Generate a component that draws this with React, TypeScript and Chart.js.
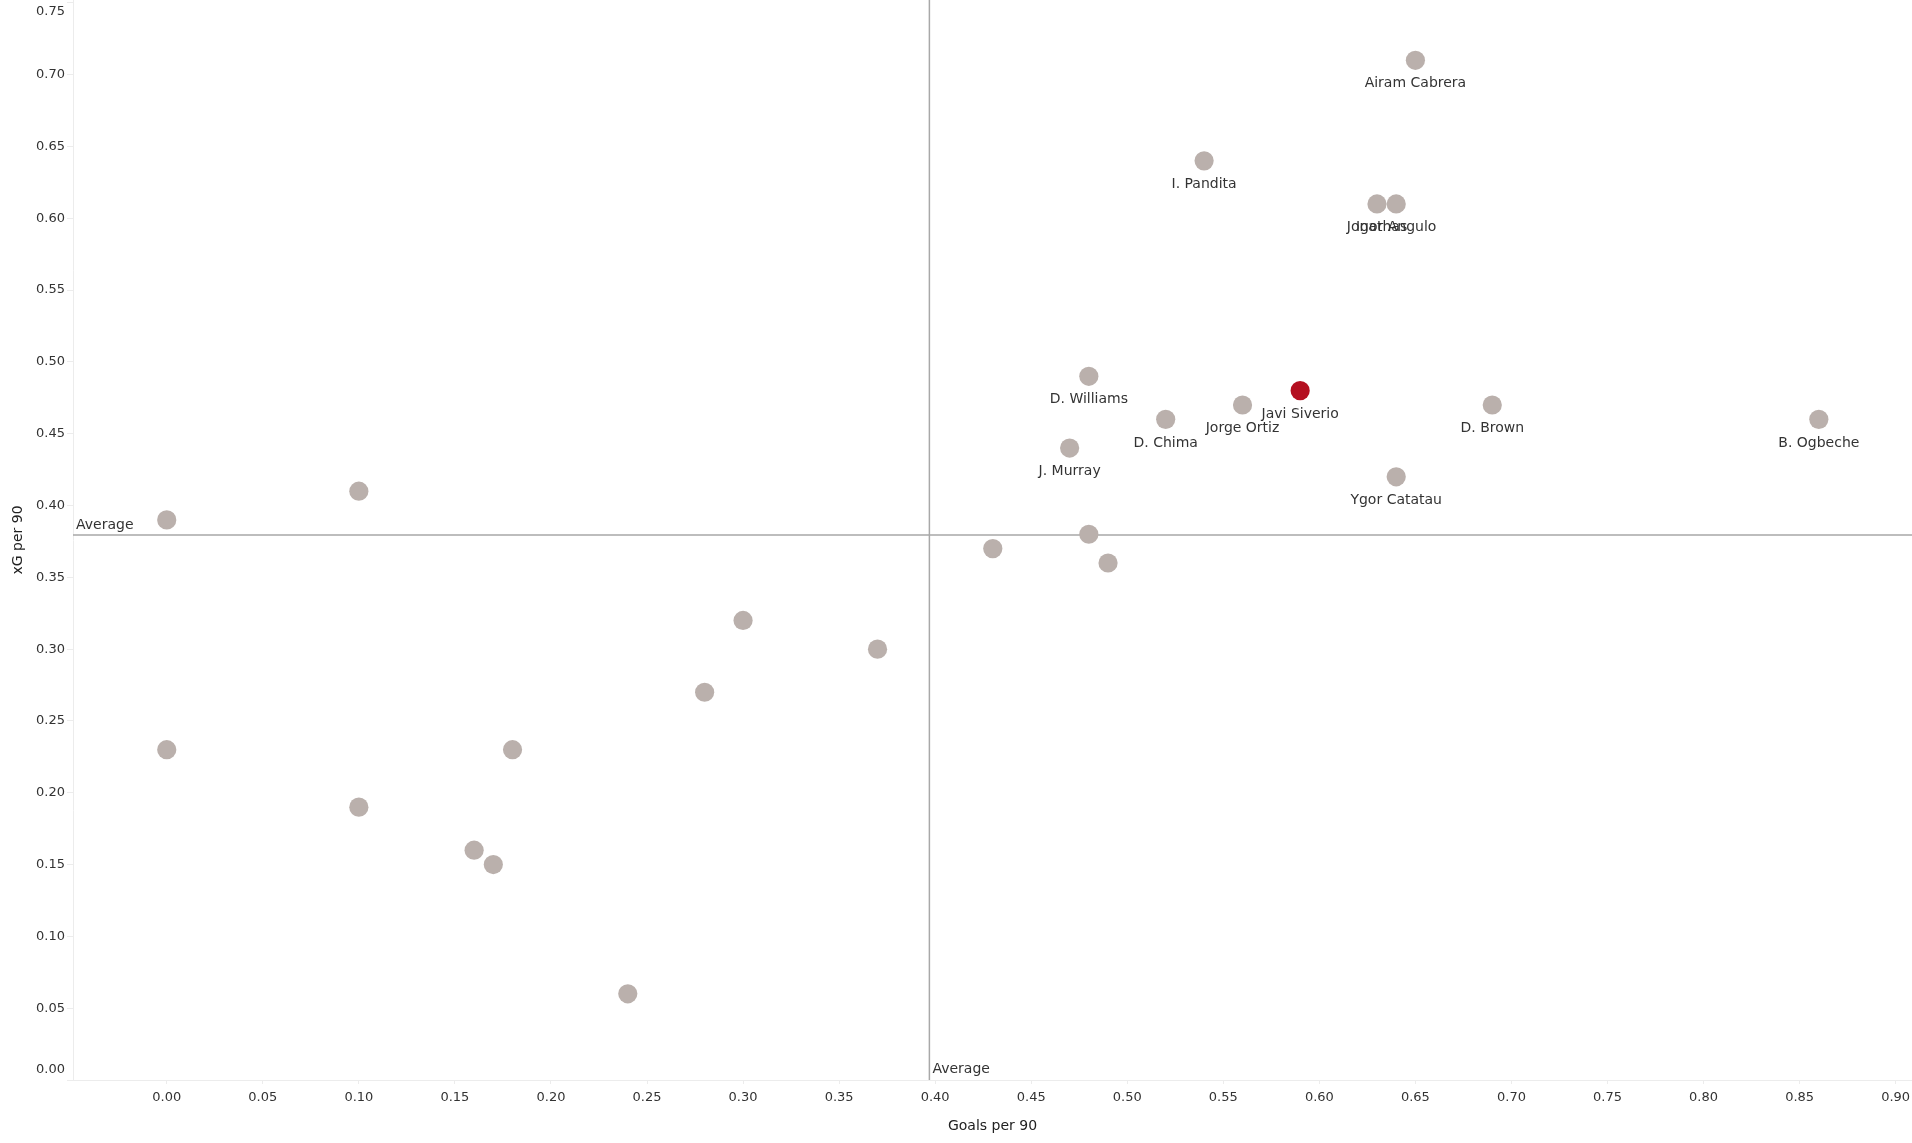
import React, { useEffect, useRef } from 'react';
import { Chart, registerables } from 'chart.js';

Chart.register(...registerables);

// ---- data ----
const playerNames = [
  'Airam Cabrera', 'I. Pandita', 'Jonathas', 'Igor Angulo', 'D. Williams', 'Javi Siverio',
  'Jorge Ortiz', 'D. Brown', 'D. Chima', 'B. Ogbeche', 'J. Murray', 'Ygor Catatau',
  '', '', '', '', '', '', '', '', '', '', '', '', '', '',
];
const goalsPer90 = [
  0.65, 0.54, 0.63, 0.64, 0.48, 0.59,
  0.56, 0.69, 0.52, 0.86, 0.47, 0.64,
  0.0, 0.10, 0.48, 0.43, 0.49, 0.30, 0.37, 0.28, 0.0, 0.18, 0.10, 0.16, 0.17, 0.24,
];
const xgPer90 = [
  0.71, 0.64, 0.61, 0.61, 0.49, 0.48,
  0.47, 0.47, 0.46, 0.46, 0.44, 0.42,
  0.39, 0.41, 0.38, 0.37, 0.36, 0.32, 0.30, 0.27, 0.23, 0.23, 0.19, 0.16, 0.15, 0.06,
];
const highlightedPlayer = 'Javi Siverio';
const averageGoals = 0.397;
const averageXg = 0.3795;
const averageLabel = 'Average';
const xTitle = 'Goals per 90';
const yTitle = 'xG per 90';

const FONT = "'DejaVu Sans', sans-serif";
const GRAY = '#bab0ac';
const RED = '#b40f20';
const TEXT = '#333333';

export default function App() {
  const ref = useRef<HTMLCanvasElement | null>(null);

  useEffect(() => {
    if (!ref.current) return;
    const pts = playerNames.map((n, i) => ({ x: goalsPer90[i], y: xgPer90[i], label: n }));
    const others = pts.filter((p) => p.label !== highlightedPlayer);
    const hi = pts.filter((p) => p.label === highlightedPlayer);

    const overlay = {
      id: 'overlay',
      beforeDatasetsDraw(chart: any) {
        const { ctx, chartArea, scales } = chart;
        const xs = scales.x, ys = scales.y;
        ctx.save();
        ctx.strokeStyle = '#a8a8a8';
        ctx.lineWidth = 1.5;
        const ax = xs.getPixelForValue(averageGoals);
        const ay = ys.getPixelForValue(averageXg);
        ctx.beginPath();
        ctx.moveTo(ax, chartArea.top);
        ctx.lineTo(ax, chartArea.bottom);
        ctx.moveTo(chartArea.left, ay);
        ctx.lineTo(chartArea.right, ay);
        ctx.stroke();
        ctx.font = `14px ${FONT}`;
        ctx.fillStyle = TEXT;
        ctx.textBaseline = 'middle';
        ctx.textAlign = 'left';
        ctx.fillText(averageLabel, chartArea.left + 3, ay - 10);
        ctx.fillText(averageLabel, ax + 3, chartArea.bottom - 11);
        // y tick labels (clamped inside the pane like the reference)
        ctx.font = `13px ${FONT}`;
        ctx.textAlign = 'right';
        ys.ticks.forEach((t: any) => {
          let py = ys.getPixelForValue(t.value);
          py = Math.max(chartArea.top + 12, Math.min(chartArea.bottom - 10, py));
          ctx.fillText(Number(t.value).toFixed(2), chartArea.left - 8, py);
        });
        ctx.restore();
      },
      afterDatasetsDraw(chart: any) {
        const { ctx } = chart;
        ctx.save();
        ctx.font = `14px ${FONT}`;
        ctx.fillStyle = TEXT;
        ctx.textAlign = 'center';
        ctx.textBaseline = 'middle';
        chart.data.datasets.forEach((ds: any, di: number) => {
          const meta = chart.getDatasetMeta(di);
          meta.data.forEach((el: any, i: number) => {
            const lbl = ds.data[i].label;
            if (lbl) ctx.fillText(lbl, el.x, el.y + 23.5);
          });
        });
        ctx.restore();
      },
    };

    const chart = new Chart(ref.current, {
      type: 'scatter',
      data: {
        datasets: [
          { data: others, backgroundColor: GRAY, borderWidth: 0, pointRadius: 9.6, pointHoverRadius: 9.6 },
          { data: hi, backgroundColor: RED, borderWidth: 0, pointRadius: 9.6, pointHoverRadius: 9.6 },
        ],
      },
      options: {
        animation: false,
        responsive: false,
        maintainAspectRatio: false,
        layout: { padding: 0, autoPadding: false },
        plugins: { legend: { display: false }, tooltip: { enabled: false } },
        scales: {
          x: {
            type: 'linear',
            min: -0.0488,
            max: 0.9085,
            border: { color: '#ececec', width: 1 },
            grid: { display: true, drawOnChartArea: false, drawTicks: true, tickLength: 4, color: '#ececec' },
            ticks: {
              stepSize: 0.05,
              includeBounds: false,
              padding: 6,
              color: TEXT,
              font: { family: FONT, size: 13 },
              maxRotation: 0,
              autoSkip: false,
              callback: (v: any) => Number(v).toFixed(2),
            },
            title: { display: true, text: xTitle, color: '#222', font: { family: FONT, size: 14 }, padding: { top: 0, bottom: 8.6 } },
            afterFit: (s: any) => { s.height = 63; s.paddingLeft = 0; s.paddingRight = 0; },
          },
          y: {
            type: 'linear',
            min: 0,
            max: 0.752,
            border: { color: '#ececec', width: 1 },
            grid: { display: true, drawOnChartArea: false, drawTicks: true, tickLength: 6, color: '#ececec' },
            ticks: {
              stepSize: 0.05,
              includeBounds: false,
              display: false,
              autoSkip: false,
            },
            title: { display: true, text: yTitle, color: '#222', font: { family: FONT, size: 14 }, padding: { top: 10, bottom: 0 } },
            afterFit: (s: any) => { s.width = 73; s.paddingTop = 0; s.paddingBottom = 0; },
          },
        },
      },
      plugins: [overlay],
    });
    return () => chart.destroy();
  }, []);

  return (
    <div style={{ position: 'fixed', left: 0, top: 0, width: 1912, height: 1143, background: '#fff' }}>
      <canvas ref={ref} width={1912} height={1143} style={{ display: 'block' }} />
    </div>
  );
}
